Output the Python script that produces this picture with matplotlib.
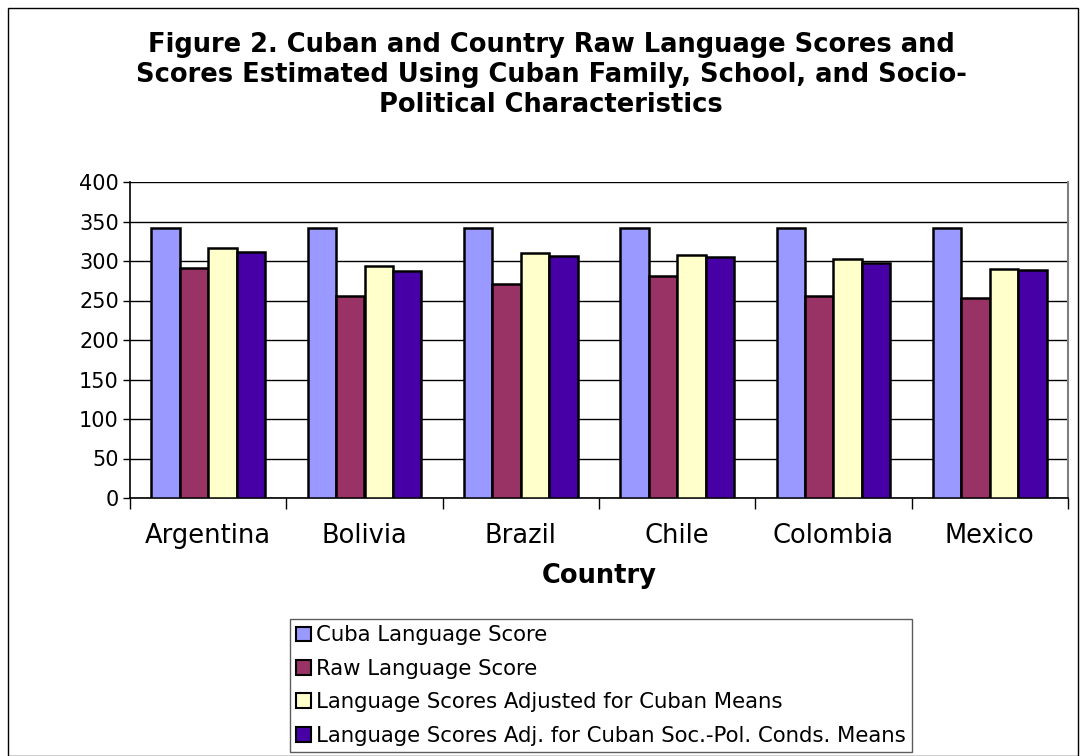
import numpy as np
import matplotlib.pyplot as plt
from matplotlib.patches import Rectangle

countries = ['Argentina', 'Bolivia', 'Brazil', 'Chile', 'Colombia', 'Mexico']
cuba = [342, 342, 342, 342, 342, 342]
raw = [291, 256, 271, 281, 256, 253]
adjusted = [316, 294, 310, 307, 302, 290]
socpol = [311, 287, 306, 305, 297, 288]

series_names = ['Cuba Language Score',
                'Raw Language Score',
                'Language Scores Adjusted for Cuban Means',
                'Language Scores Adj. for Cuban Soc.-Pol. Conds. Means']
colors = ['#9999FF', '#993366', '#FFFFCC', '#4700A6']

plt.rcParams['font.family'] = 'DejaVu Sans'

fig = plt.figure(figsize=(10.8, 7.56), dpi=100)
ax = fig.add_axes([130 / 1080, 1 - 498 / 756, 938 / 1080, 316 / 756])

# outer chart frame
fig.patches.append(Rectangle((8 / 1080, 0), 1070 / 1080, 748 / 756,
                             transform=fig.transFigure, fill=False,
                             edgecolor='black', linewidth=1.0))

x = np.arange(len(countries))
w = 0.182
for i, (vals, c, name) in enumerate(zip([cuba, raw, adjusted, socpol], colors, series_names)):
    ax.bar(x + (i - 1.5) * w, vals, w, color=c, edgecolor='black',
           linewidth=1.8, label=name, zorder=3)

ax.set_xlim(-0.5, len(countries) - 0.5)
ax.set_ylim(0, 400)
ax.set_yticks(range(0, 401, 50))
ax.tick_params(axis='y', labelsize=15, direction='out', length=5, width=1, pad=3)
ax.set_xticks(x)
ax.set_xticklabels(countries, fontsize=18.5)
ax.tick_params(axis='x', length=0, pad=18)
ax.set_xticks(np.arange(-0.5, len(countries)), minor=True)
ax.tick_params(axis='x', which='minor', direction='out', length=8, width=1)
ax.grid(axis='y', color='black', linewidth=1, zorder=0)
ax.spines['right'].set_color('#808080')
ax.spines['right'].set_linewidth(1.5)
ax.spines['top'].set_visible(False)
ax.spines['left'].set_linewidth(1.2)
ax.spines['bottom'].set_linewidth(1.2)

ax.set_xlabel('Country', fontsize=18.5, fontweight='bold', labelpad=10)

fig.text(551 / 1080, 1 - 75 / 756,
         'Figure 2. Cuban and Country Raw Language Scores and\n'
         'Scores Estimated Using Cuban Family, School, and Socio-\n'
         'Political Characteristics',
         ha='center', va='center', fontsize=18.5, fontweight='bold', linespacing=1.2)

leg = fig.legend(loc='lower left', bbox_to_anchor=(290 / 1080, 1 - 752 / 756),
                 fontsize=15.3, frameon=True, fancybox=False, edgecolor='#333333',
                 handlelength=0.7, handleheight=0.7, handletextpad=0.23,
                 labelspacing=0.63, borderpad=0.3, borderaxespad=0)
leg.get_frame().set_linewidth(1.0)
for h in leg.legend_handles:
    h.set_linewidth(1.5)

fig.savefig('out.png', dpi=100)
